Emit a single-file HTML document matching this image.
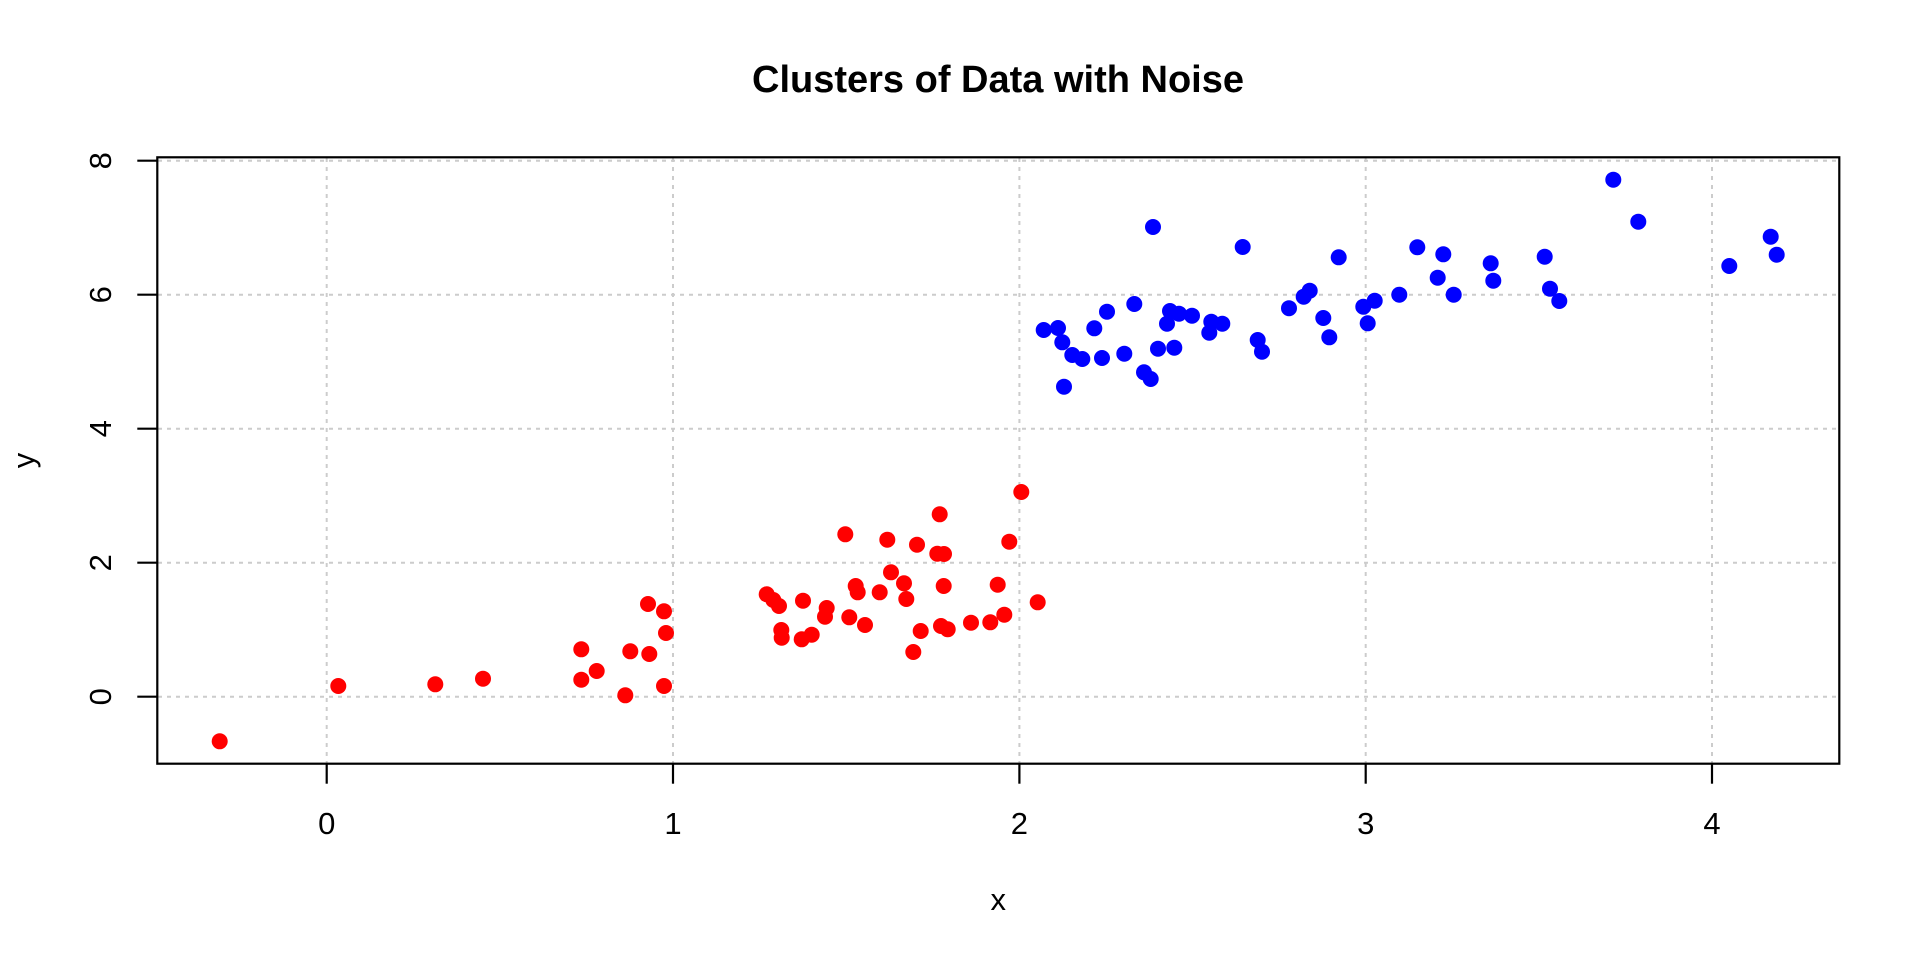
<!DOCTYPE html>
<html>
<head>
<meta charset="utf-8">
<style>
html,body{margin:0;padding:0;background:#fff;}
svg{display:block;}
text{font-family:"Liberation Sans", Arial, sans-serif;fill:#000;}
</style>
</head>
<body>
<svg width="1920" height="960" viewBox="0 0 1920 960" xmlns="http://www.w3.org/2000/svg">
<rect x="0" y="0" width="1920" height="960" fill="#fff"/>
<g stroke="#cccccc" stroke-width="2" stroke-dasharray="4 5" fill="none">
<line x1="326.7" y1="158" x2="326.7" y2="763"/>
<line x1="673" y1="158" x2="673" y2="763"/>
<line x1="1019.4" y1="158" x2="1019.4" y2="763"/>
<line x1="1365.7" y1="158" x2="1365.7" y2="763"/>
<line x1="1712" y1="158" x2="1712" y2="763"/>
<line x1="158" y1="696.7" x2="1839" y2="696.7"/>
<line x1="158" y1="562.7" x2="1839" y2="562.7"/>
<line x1="158" y1="428.7" x2="1839" y2="428.7"/>
<line x1="158" y1="294.7" x2="1839" y2="294.7"/>
<line x1="158" y1="160.7" x2="1839" y2="160.7"/>
</g>
<g fill="#ff0000">
<circle cx="219.7" cy="741.3" r="8"/>
<circle cx="338.3" cy="686" r="8"/>
<circle cx="435.3" cy="684.3" r="8"/>
<circle cx="483" cy="678.7" r="8"/>
<circle cx="581.3" cy="649.3" r="8"/>
<circle cx="581.3" cy="679.7" r="8"/>
<circle cx="596.7" cy="671" r="8"/>
<circle cx="625.3" cy="695.3" r="8"/>
<circle cx="630.3" cy="651.3" r="8"/>
<circle cx="649.3" cy="654" r="8"/>
<circle cx="648" cy="604" r="8"/>
<circle cx="664" cy="611.3" r="8"/>
<circle cx="666" cy="633" r="8"/>
<circle cx="664" cy="686" r="8"/>
<circle cx="766.7" cy="594.3" r="8"/>
<circle cx="773.3" cy="600" r="8"/>
<circle cx="779" cy="606" r="8"/>
<circle cx="803" cy="600.7" r="8"/>
<circle cx="781.3" cy="630" r="8"/>
<circle cx="781.7" cy="637.7" r="8"/>
<circle cx="801.7" cy="639.3" r="8"/>
<circle cx="811.7" cy="634.7" r="8"/>
<circle cx="826.7" cy="608" r="8"/>
<circle cx="825" cy="616.7" r="8"/>
<circle cx="845.3" cy="534.3" r="8"/>
<circle cx="849.3" cy="617.3" r="8"/>
<circle cx="855.7" cy="586" r="8"/>
<circle cx="857.7" cy="592.3" r="8"/>
<circle cx="865" cy="625" r="8"/>
<circle cx="879.7" cy="592.3" r="8"/>
<circle cx="887.3" cy="539.7" r="8"/>
<circle cx="891" cy="572.3" r="8"/>
<circle cx="904" cy="583.3" r="8"/>
<circle cx="906.3" cy="599" r="8"/>
<circle cx="913.3" cy="652" r="8"/>
<circle cx="917" cy="544.7" r="8"/>
<circle cx="920.7" cy="631" r="8"/>
<circle cx="939.7" cy="514.3" r="8"/>
<circle cx="937.3" cy="553.7" r="8"/>
<circle cx="944" cy="554" r="8"/>
<circle cx="943.7" cy="586" r="8"/>
<circle cx="941" cy="626" r="8"/>
<circle cx="947.7" cy="629.3" r="8"/>
<circle cx="971" cy="622.7" r="8"/>
<circle cx="990.3" cy="622.3" r="8"/>
<circle cx="997.7" cy="584.7" r="8"/>
<circle cx="1004.3" cy="614.7" r="8"/>
<circle cx="1009.3" cy="541.7" r="8"/>
<circle cx="1021.3" cy="492" r="8"/>
<circle cx="1037.7" cy="602.3" r="8"/>
</g>
<g fill="#0000ff">
<circle cx="1153" cy="227" r="8"/>
<circle cx="1242.7" cy="247" r="8"/>
<circle cx="1134.3" cy="304" r="8"/>
<circle cx="1107" cy="311.7" r="8"/>
<circle cx="1094.3" cy="328.3" r="8"/>
<circle cx="1043.7" cy="330" r="8"/>
<circle cx="1058" cy="328" r="8"/>
<circle cx="1062.3" cy="342.3" r="8"/>
<circle cx="1072.3" cy="355" r="8"/>
<circle cx="1082.3" cy="359" r="8"/>
<circle cx="1102" cy="358" r="8"/>
<circle cx="1124.3" cy="353.7" r="8"/>
<circle cx="1064" cy="386.7" r="8"/>
<circle cx="1144" cy="372.3" r="8"/>
<circle cx="1150.7" cy="379" r="8"/>
<circle cx="1158" cy="348.7" r="8"/>
<circle cx="1174.3" cy="347.7" r="8"/>
<circle cx="1167" cy="323.7" r="8"/>
<circle cx="1170" cy="311" r="8"/>
<circle cx="1179" cy="313.7" r="8"/>
<circle cx="1192" cy="315.7" r="8"/>
<circle cx="1211.3" cy="321.7" r="8"/>
<circle cx="1222.3" cy="323.7" r="8"/>
<circle cx="1209.3" cy="332.7" r="8"/>
<circle cx="1257.7" cy="340" r="8"/>
<circle cx="1262" cy="351.7" r="8"/>
<circle cx="1289" cy="308.2" r="8"/>
<circle cx="1338.7" cy="257.3" r="8"/>
<circle cx="1309.7" cy="290.7" r="8"/>
<circle cx="1303.7" cy="296.7" r="8"/>
<circle cx="1323.3" cy="318" r="8"/>
<circle cx="1329.3" cy="337.3" r="8"/>
<circle cx="1363.3" cy="306.7" r="8"/>
<circle cx="1374.7" cy="300.7" r="8"/>
<circle cx="1367.7" cy="323.3" r="8"/>
<circle cx="1399.3" cy="294.7" r="8"/>
<circle cx="1417.3" cy="247.3" r="8"/>
<circle cx="1443.3" cy="254.3" r="8"/>
<circle cx="1437.7" cy="277.7" r="8"/>
<circle cx="1453.7" cy="294.7" r="8"/>
<circle cx="1490.7" cy="263.3" r="8"/>
<circle cx="1493.3" cy="280.7" r="8"/>
<circle cx="1613.3" cy="179.7" r="8"/>
<circle cx="1638.3" cy="221.7" r="8"/>
<circle cx="1544.7" cy="256.7" r="8"/>
<circle cx="1550" cy="288.7" r="8"/>
<circle cx="1559.3" cy="301" r="8"/>
<circle cx="1729.3" cy="266" r="8"/>
<circle cx="1770.7" cy="236.7" r="8"/>
<circle cx="1776.7" cy="254.7" r="8"/>
</g>
<rect x="157.3" y="157.3" width="1682" height="606.4" fill="none" stroke="#000" stroke-width="2.2"/>
<g stroke="#000" stroke-width="2.2">
<line x1="326.7" y1="763.7" x2="326.7" y2="783.7"/>
<line x1="673" y1="763.7" x2="673" y2="783.7"/>
<line x1="1019.4" y1="763.7" x2="1019.4" y2="783.7"/>
<line x1="1365.7" y1="763.7" x2="1365.7" y2="783.7"/>
<line x1="1712" y1="763.7" x2="1712" y2="783.7"/>
<line x1="137.3" y1="696.7" x2="157.3" y2="696.7"/>
<line x1="137.3" y1="562.7" x2="157.3" y2="562.7"/>
<line x1="137.3" y1="428.7" x2="157.3" y2="428.7"/>
<line x1="137.3" y1="294.7" x2="157.3" y2="294.7"/>
<line x1="137.3" y1="160.7" x2="157.3" y2="160.7"/>
</g>
<g font-size="31" text-anchor="middle">
<text x="326.7" y="834">0</text>
<text x="673" y="834">1</text>
<text x="1019.4" y="834">2</text>
<text x="1365.7" y="834">3</text>
<text x="1712" y="834">4</text>
</g>
<g font-size="31" text-anchor="middle">
<text transform="translate(111,696.7) rotate(-90)">0</text>
<text transform="translate(111,562.7) rotate(-90)">2</text>
<text transform="translate(111,428.7) rotate(-90)">4</text>
<text transform="translate(111,294.7) rotate(-90)">6</text>
<text transform="translate(111,160.7) rotate(-90)">8</text>
</g>
<text x="998.3" y="910" font-size="31" text-anchor="middle">x</text>
<text transform="translate(34,460.5) rotate(-90)" font-size="31" text-anchor="middle">y</text>
<text x="998" y="92" font-size="38" font-weight="bold" text-anchor="middle">Clusters of Data with Noise</text>
</svg>
</body>
</html>
